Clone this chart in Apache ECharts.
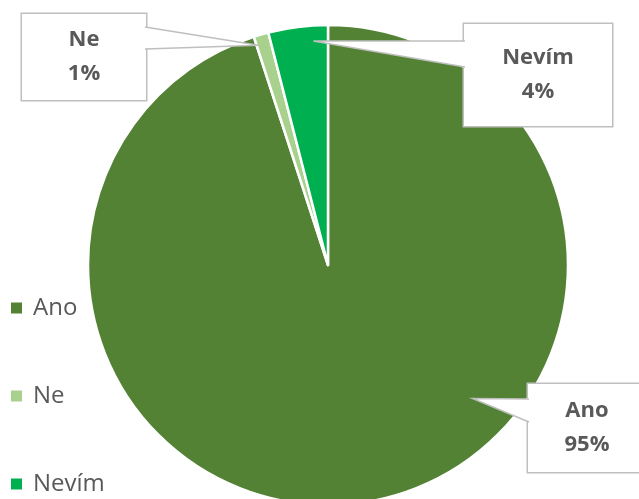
<!DOCTYPE html>
<html>
<head>
<meta charset="utf-8">
<script src="https://cdn.jsdelivr.net/npm/echarts@6/dist/echarts.min.js"></script>
<style>
  html, body { margin: 0; padding: 0; background: #fff; }
  #chart { width: 639px; height: 499px; }
</style>
</head>
<body>
<div id="chart"></div>
<script>
// Survey answers (share of respondents, %)
const categories = ['Ano', 'Ne', 'Nevím'];
const shares = [95, 1, 4];
const sliceColors = ['#548235', '#A9D18E', '#00B050'];

// Callout boxes: centre, width, vertical padding (top, bottom), which side
// the pointer leaves from, the span of its base along that side, and where
// its tip sits inside the slice (fraction of the sweep, fraction of radius).
const calloutBoxes = [
  { cx: 587, cy: 428, w: 118, pad: [13, 7],  side: 'left',  baseY: [399, 422], tipSweep: 0.388, tipRadius: 0.82 },
  { cx: 84,  cy: 57,  w: 124, pad: [12, 6],  side: 'right', baseY: [27, 49],   tipSweep: 0.12,  tipRadius: 0.96 },
  { cx: 538, cy: 75,  w: 148, pad: [20, 14], side: 'left',  baseY: [41, 67],   tipSweep: 0.74,  tipRadius: 0.935 }
];

const chart = echarts.init(document.getElementById('chart'));

const data = categories.map((name, i) => ({
  name,
  value: shares[i],
  itemStyle: { color: sliceColors[i] },
  label: {
    width: calloutBoxes[i].w,
    padding: [calloutBoxes[i].pad[0], 0, calloutBoxes[i].pad[1], 0]
  }
}));

chart.setOption({
  animation: false,
  backgroundColor: '#ffffff',
  legend: {
    orient: 'vertical',
    left: 11,
    top: 296,
    padding: 0,
    itemWidth: 11,
    itemHeight: 11,
    itemGap: 64,
    icon: 'rect',
    itemStyle: { borderWidth: 0 },
    textStyle: {
      fontFamily: 'Open Sans',
      fontSize: 24,
      lineHeight: 24,
      color: '#595959',
      padding: [0, 0, 0, 6]
    },
    data: categories
  },
  series: [{
    type: 'pie',
    center: [328, 265],
    radius: 240,
    startAngle: 90,
    clockwise: true,
    data,
    itemStyle: { borderColor: '#ffffff', borderWidth: 2.5 },
    label: {
      show: true,
      position: 'outside',
      formatter: '{b}\n{d}%',
      fontFamily: 'Open Sans',
      fontWeight: 'bold',
      fontSize: 22,
      lineHeight: 34,
      color: '#595959',
      align: 'center',
      backgroundColor: '#ffffff',
      borderColor: '#BFBFBF',
      borderWidth: 1.5
    },
    labelLine: { show: false },
    labelLayout: function (params) {
      const b = calloutBoxes[params.dataIndex];
      return { x: b.cx, y: b.cy, align: 'center', verticalAlign: 'middle' };
    }
  }]
});

// Callout pointers: a white wedge from each box edge to a point inside its
// slice, placed using the sector geometry that the pie layout produced.
const pieData = chart.getModel().getSeriesByIndex(0).getData();
const pointers = calloutBoxes.map((b, i) => {
  const lay = pieData.getItemLayout(i);
  const a = lay.startAngle + b.tipSweep * (lay.endAngle - lay.startAngle);
  const tip = [lay.cx + lay.r * b.tipRadius * Math.cos(a),
               lay.cy + lay.r * b.tipRadius * Math.sin(a)];
  const edgeX = b.side === 'left' ? b.cx - b.w / 2 + 1 : b.cx + b.w / 2 - 1;
  return {
    type: 'polyline',
    z: 100,
    shape: { points: [[edgeX, b.baseY[0]], tip, [edgeX, b.baseY[1]]] },
    style: { fill: '#ffffff', stroke: '#BFBFBF', lineWidth: 1.5 }
  };
});
chart.setOption({ graphic: pointers });
</script>
</body>
</html>
